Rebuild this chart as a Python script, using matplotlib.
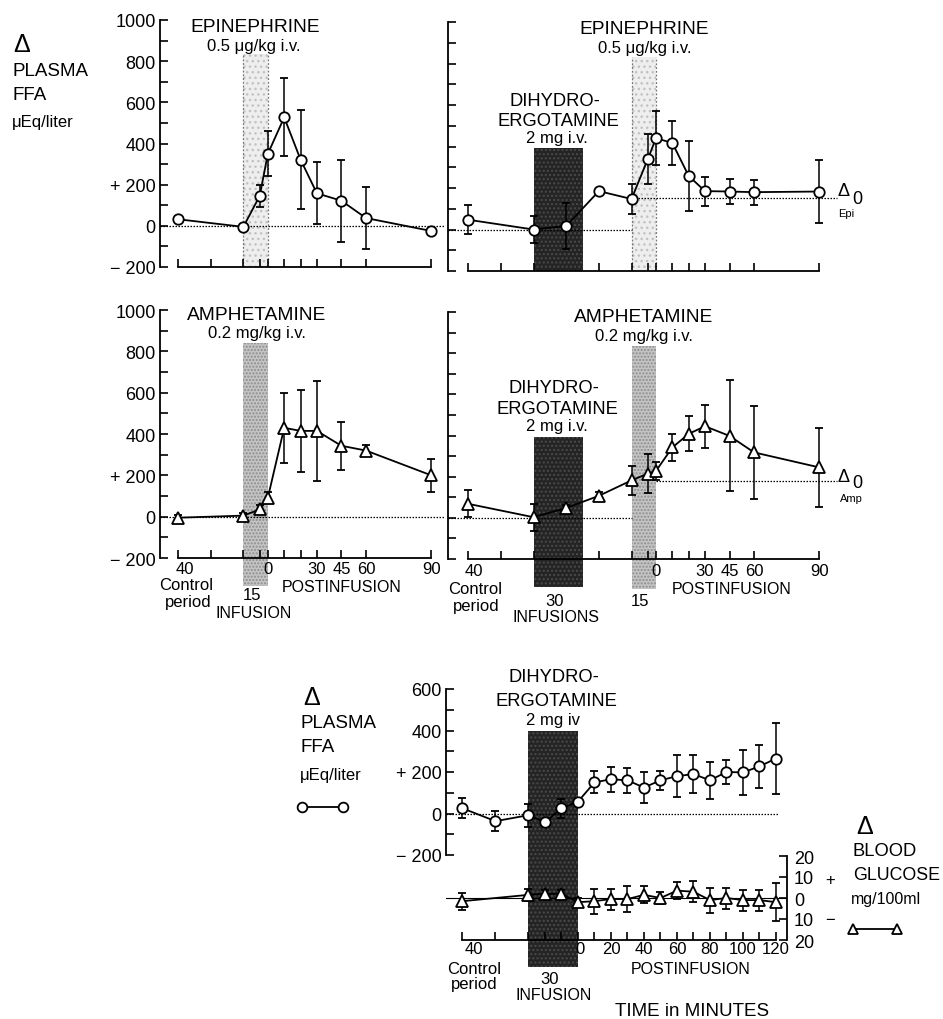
import numpy as np
import matplotlib
matplotlib.use("Agg")
import matplotlib.pyplot as plt
from matplotlib.lines import Line2D
from matplotlib.ticker import NullLocator

plt.rcParams['font.family'] = ['Liberation Sans', 'DejaVu Sans']

W, H = 943, 1020

# ----------------
# data (minutes, 0 = end of the last infusion)
# ----------------
EPI_INF = (-15, 0)
DHE_INF = (-75, -45)
DHE_INF_B = (-30, 0)

# top left: epinephrine alone
epi_t = [-55, -15, -5, 0, 10, 20, 30, 45, 60, 90]
epi_ffa = [32, -5, 145, 350, 527, 322, 158, 122, 38, -25]
epi_err = [18, 15, 55, 110, 190, 240, 150, 200, 150, 10]

# top right: epinephrine after dihydroergotamine
dhe_epi_t = [-115, -75, -55, -35, -15, -5, 0, 10, 20, 30, 45, 60, 90]
dhe_epi_ffa = [47, 0, 17, 185, 147, 340, 440, 417, 258, 185, 183, 180, 183]
dhe_epi_err = [70, 65, 110, 12, 70, 120, 130, 105, 170, 70, 60, 60, 150]
delta0_epi = 150

# middle left: amphetamine alone
amph_t = [-55, -15, -5, 0, 10, 20, 30, 45, 60, 90]
amph_ffa = [-5, 5, 35, 92, 430, 415, 415, 343, 320, 200]
amph_err = [15, 12, 20, 25, 170, 200, 240, 115, 25, 80]

# middle right: amphetamine after dihydroergotamine
dhe_amph_t = [-115, -75, -55, -35, -15, -5, 0, 10, 20, 30, 45, 60, 90]
dhe_amph_ffa = [68, 3, 48, 107, 182, 215, 228, 342, 408, 445, 398, 318, 245]
dhe_amph_err = [65, 65, 15, 20, 70, 95, 45, 65, 85, 105, 270, 225, 190]
delta0_amp = 180

# bottom: dihydroergotamine alone, FFA and blood glucose
dhe_t = [-70, -50, -30, -20, -10, 0, 10, 20, 30, 40, 50, 60, 70, 80, 90, 100, 110, 120]
dhe_ffa = [25, -37, -8, -42, 25, 57, 150, 165, 160, 125, 160, 180, 190, 160, 200, 198, 227, 265]
dhe_ffa_err = [48, 48, 55, 10, 45, 10, 53, 60, 60, 75, 45, 100, 90, 90, 60, 110, 105, 170]
glu_t = [-70, -30, -20, -10, 0, 10, 20, 30, 40, 50, 60, 70, 80, 90, 100, 110, 120]
glu = [-1.5, 1.5, 2, 2, -2, -1.5, -0.5, -0.5, 1.5, 0, 3.5, 3, -1, 0, -1, -1, -2]
glu_err = [4, 3, 2, 2, 2, 6, 5, 6, 4, 3, 4, 5, 6, 5, 5, 5, 9]

ffa_ticks = [-200, 0, 200, 400, 600, 800, 1000]
ffa_ticklabels = ["\u2212 200", "0", "+ 200", "400", "600", "800", "1000"]
ffa_minor = [-100, 100, 300, 500, 700, 900]
left_xticks = [-55, -35, -15, -5, 0, 10, 20, 30, 45, 60, 90]
right_xticks = [-115, -95, -75, -35, -15, -5, 0, 10, 20, 30, 45, 60, 90]
post_labels = [0, 30, 45, 60, 90]
glu_xticks = [-70, -50, -30, -20, -10] + list(range(0, 130, 10))
glu_xlabels = list(range(0, 130, 20))


# axis of the top four panels: linear up to 60 min, 90 min drawn a bit further
def fwd(t):
    t = np.asarray(t, dtype=float)
    return np.where(t > 60, 60 + (t - 60) * 4 / 3, t)


def inv(u):
    u = np.asarray(u, dtype=float)
    return np.where(u > 60, 60 + (u - 60) * 3 / 4, u)


fig = plt.figure(figsize=(W / 100, H / 100), dpi=100)
fig.patch.set_facecolor('white')


def px_axes(x0, y0, x1, y1):
    return fig.add_axes([x0 / W, 1 - y1 / H, (x1 - x0) / W, (y1 - y0) / H])


def ftext(x, y, s, size=12, ha='center', **kw):
    fig.text(x / W, 1 - y / H, s, fontsize=size, ha=ha, va='center', **kw)


def below(ax, t, dy, s, size=12):
    ax.annotate(s, xy=(t, 0), xycoords=('data', 'axes fraction'), xytext=(0, -dy),
                textcoords='offset pixels', ha='center', va='center', fontsize=size,
                annotation_clip=False, zorder=10)


def ffa_panel(ax, xlim, xticks, ylabels=True):
    ax.set_xscale('function', functions=(fwd, inv))
    ax.set_xlim(*xlim)
    ax.set_ylim(-200, 1000)
    ax.patch.set_visible(False)
    for s in ['top', 'right']:
        ax.spines[s].set_visible(False)
    for s in ['left', 'bottom']:
        ax.spines[s].set_linewidth(1.3)
    ax.spines['bottom'].set_bounds(xticks[0], xticks[-1])
    ax.set_xticks(xticks)
    ax.set_xticklabels([])
    ax.xaxis.set_minor_locator(NullLocator())
    ax.set_yticks(ffa_ticks)
    ax.set_yticks(ffa_minor, minor=True)
    ax.set_yticklabels(ffa_ticklabels if ylabels else [])
    ax.tick_params(which='both', direction='in', length=6, width=1.2, labelsize=13, pad=3)


def draw_series(ax, t, y, err, marker='o', ms=7.5):
    ax.errorbar(t, y, yerr=err, fmt='-' + marker, color='k', mfc='white', mec='k', ms=ms,
                mew=1.3, lw=1.3, elinewidth=1.1, capsize=3, capthick=1.1, zorder=5)


def light_band(ax, span, top, bottom=0.0, dense=False):
    if dense:
        p = ax.axvspan(*span, ymin=bottom, ymax=top, facecolor='#c4c4c4', hatch='.....',
                       edgecolor='#8c8c8c', lw=0, zorder=1)
    else:
        p = ax.axvspan(*span, ymin=bottom, ymax=top, facecolor='#eeeeee', hatch='...',
                       edgecolor='#c2c2c2', lw=0, zorder=1)
        for x in span:
            ax.axvline(x, ymin=bottom, ymax=top, ls=(0, (1.5, 1.5)), color='#777777', lw=0.9, zorder=1)
    p.set_clip_on(False)


def dark_band(ax, span, top, bottom=0.0):
    p = ax.axvspan(*span, ymin=bottom, ymax=top, facecolor='#242424', hatch='....',
                   edgecolor='#4a4a4a', lw=0, zorder=1)
    p.set_clip_on(False)


dotted = dict(color='k', lw=0.9, ls=(0, (1.2, 1.2)), zorder=2)

# ----------------
# top left: epinephrine
# ----------------
ax1 = px_axes(160, 21, 445, 268)
ffa_panel(ax1, (-66, 96.3), left_xticks)
light_band(ax1, EPI_INF, 0.864)
ax1.axhline(0, **dotted)
draw_series(ax1, epi_t, epi_ffa, epi_err)

# top right: epinephrine after DHE
ax2 = px_axes(448, 23, 845, 272)
ffa_panel(ax2, (-127.4, 101.8), right_xticks, ylabels=False)
dark_band(ax2, DHE_INF, 0.494)
light_band(ax2, EPI_INF, 0.86)
ax2.hlines(0, -127.4, EPI_INF[0], **dotted)
ax2.hlines(delta0_epi, EPI_INF[0], 98, clip_on=False, **dotted)
draw_series(ax2, dhe_epi_t, dhe_epi_ffa, dhe_epi_err)

# middle left: amphetamine
ax3 = px_axes(160, 311, 445, 559)
ffa_panel(ax3, (-66, 96.3), left_xticks)
light_band(ax3, EPI_INF, 0.867, bottom=-0.113, dense=True)
ax3.axhline(0, **dotted)
draw_series(ax3, amph_t, amph_ffa, amph_err, marker='^', ms=8)

# middle right: amphetamine after DHE
ax4 = px_axes(448, 313, 845, 560)
ffa_panel(ax4, (-127.4, 101.8), right_xticks, ylabels=False)
dark_band(ax4, DHE_INF, 0.494, bottom=-0.113)
light_band(ax4, EPI_INF, 0.862, bottom=-0.121, dense=True)
ax4.hlines(0, -127.4, EPI_INF[0], **dotted)
ax4.hlines(delta0_amp, 0, 98, clip_on=False, **dotted)
draw_series(ax4, dhe_amph_t, dhe_amph_ffa, dhe_amph_err, marker='^', ms=8)

# ----------------
# bottom: DHE alone
# ----------------
ax5 = px_axes(446, 690, 787, 856)
ax5.set_xlim(-80, 126.7)
ax5.set_ylim(-200, 600)
ax5.patch.set_visible(False)
for s in ['top', 'right', 'bottom']:
    ax5.spines[s].set_visible(False)
ax5.spines['left'].set_linewidth(1.3)
ax5.set_xticks([])
ax5.set_yticks([-200, 0, 200, 400, 600])
ax5.set_yticks([-100, 100, 300, 500], minor=True)
ax5.set_yticklabels(["\u2212 200", "0", "+ 200", "400", "600"])
ax5.tick_params(which='both', direction='in', length=6, width=1.2, labelsize=13, pad=3)
dark_band(ax5, DHE_INF_B, 0.744, bottom=-0.675)
ax5.hlines(0, -80, 122, **dotted)
draw_series(ax5, dhe_t, dhe_ffa, dhe_ffa_err)

ax6 = px_axes(446, 857, 787, 941)
ax6.set_xlim(-80, 126.7)
ax6.set_ylim(-20, 20)
ax6.patch.set_visible(False)
for s in ['top', 'left']:
    ax6.spines[s].set_visible(False)
for s in ['right', 'bottom']:
    ax6.spines[s].set_linewidth(1.3)
ax6.spines['bottom'].set_bounds(glu_xticks[0], glu_xticks[-1])
ax6.set_xticks(glu_xticks)
ax6.set_xticklabels([])
ax6.yaxis.tick_right()
ax6.set_yticks([-20, -10, 0, 10, 20])
ax6.set_yticklabels(["20", "10", "0", "10", "20"])
ax6.tick_params(which='both', direction='in', length=6, width=1.2, labelsize=13, pad=5)
ax6.axhline(0, color='k', lw=0.8, zorder=2, xmin=-0.01)
draw_series(ax6, glu_t, glu, glu_err, marker='^', ms=8)

# ----------------
# text
# ----------------
title = 13.8
sub = 12

# left labels, top
ftext(22, 45, "\u0394", size=18)
ftext(12, 71, "PLASMA", size=13.5, ha='left')
ftext(12, 96, "FFA", size=13.5, ha='left')
ftext(12, 123, "\u03bcEq/liter", size=12, ha='left')

# panel titles
ftext(255, 27, "EPINEPHRINE", size=title)
ftext(254, 46, "0.5 \u03bcg/kg i.v.", size=sub)
ftext(644, 29, "EPINEPHRINE", size=title)
ftext(645, 49, "0.5 \u03bcg/kg i.v.", size=sub)
ftext(555, 101, "DIHYDRO-", size=13.2)
ftext(558, 121, "ERGOTAMINE", size=13.2)
ftext(557, 139, "2 mg i.v.", size=sub)

ftext(257, 315, "AMPHETAMINE", size=title)
ftext(257, 334, "0.2 mg/kg i.v.", size=sub)
ftext(644, 318, "AMPHETAMINE", size=title)
ftext(644, 337, "0.2 mg/kg i.v.", size=sub)
ftext(554, 389, "DIHYDRO-", size=13.2)
ftext(557, 409, "ERGOTAMINE", size=13.2)
ftext(557, 427, "2 mg i.v.", size=sub)

ftext(554, 678, "DIHYDRO-", size=13.2)
ftext(556, 701, "ERGOTAMINE", size=13.2)
ftext(553, 721, "2 mg iv", size=sub)

# delta-zero markers
ftext(844, 192, "\u0394", size=13)
ftext(857, 199, "0", size=13)
ftext(846, 214, "Epi", size=8)
ftext(844, 477, "\u0394", size=13)
ftext(857, 484, "0", size=13)
ftext(851, 499, "Amp", size=8)

# x labels, middle left
below(ax3, -50.5, 10, "40")
below(ax3, -50, 27, "Control")
below(ax3, -49, 43, "period")
below(ax3, -9.5, 37, "15")
below(ax3, -9, 55, "INFUSION", size=11.5)
for t in post_labels:
    below(ax3, t, 10, str(t))
below(ax3, 45, 28, "POSTINFUSION", size=11.5)

# x labels, middle right
below(ax4, -111.5, 12, "40")
below(ax4, -111, 29, "Control")
below(ax4, -110, 46, "period")
below(ax4, -62, 41, "30")
below(ax4, -61, 57, "INFUSIONS", size=11.5)
below(ax4, -10, 41, "15")
for t in post_labels:
    below(ax4, t, 12, str(t))
below(ax4, 46.5, 30, "POSTINFUSION", size=11.5)

# x labels, bottom
below(ax6, -63, 9, "40")
below(ax6, -63, 28, "Control")
below(ax6, -63, 43, "period")
below(ax6, -17, 39, "30")
below(ax6, -15, 54, "INFUSION", size=11.5)
for t in glu_xlabels:
    below(ax6, t + (1.5 if t == 0 else 0), 9, str(t))
below(ax6, 68, 28, "POSTINFUSION", size=11.5)
below(ax6, 69, 70, "TIME in MINUTES", size=13.5)

# bottom left legend
ftext(312, 698, "\u0394", size=18)
ftext(301, 723, "PLASMA", size=13.5, ha='left')
ftext(301, 748, "FFA", size=13.5, ha='left')
ftext(300, 776, "\u03bcEq/liter", size=12, ha='left')
fig.add_artist(Line2D([302 / W, 343 / W], [1 - 808 / H, 1 - 808 / H], transform=fig.transFigure,
                      color='k', lw=1.3, marker='o', ms=7, mfc='white', mec='k', mew=1.3))

# bottom right legend
ftext(865, 827, "\u0394", size=18)
ftext(853, 851, "BLOOD", size=13.2, ha='left')
ftext(853, 876, "GLUCOSE", size=12.8, ha='left')
ftext(851, 900, "mg/100ml", size=11.5, ha='left')
fig.add_artist(Line2D([853 / W, 897 / W], [1 - 930 / H, 1 - 930 / H], transform=fig.transFigure,
                      color='k', lw=1.3, marker='^', ms=7, mfc='white', mec='k', mew=1.3))
ftext(830, 880, "+", size=12)
ftext(830, 921, "\u2212", size=12)

fig.savefig("out.png", dpi=100, facecolor='white')
